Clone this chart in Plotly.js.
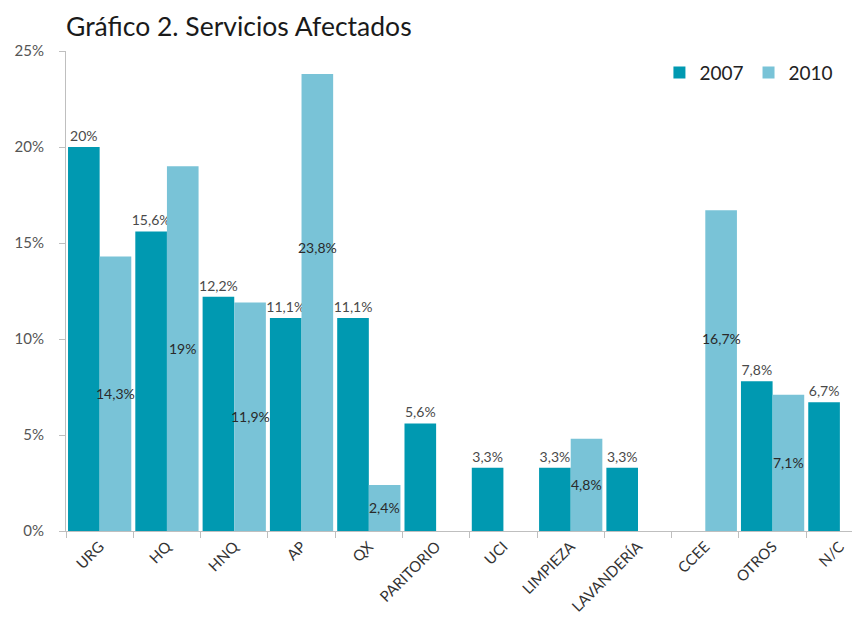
<!DOCTYPE html>
<html><head><meta charset="utf-8">
<script src="https://cdn.plot.ly/plotly-3.0.1.min.js"></script>
<style>html,body{margin:0;padding:0;background:#fff}#chart{width:852px;height:633px}</style>
</head><body><div id="chart"></div>
<script>
const categories = ["URG","HQ","HNQ","AP","QX","PARITORIO","UCI","LIMPIEZA","LAVANDERÍA","CCEE","OTROS","N/C"];
const values2007 = [20, 15.6, 12.2, 11.1, 11.1, 5.6, 3.3, 3.3, 3.3, null, 7.8, 6.7];
const values2010 = [14.3, 19, 11.9, 23.8, 2.4, null, null, 4.8, null, 16.7, 7.1, null];
const yTicks = [0, 5, 10, 15, 20, 25];
// where each 2010 label sits, as a fraction of its bar's height (Excel placement)
const labelFrac2010 = [0.5, 0.5, 0.5, 0.62, 0.5, 0.5, 0.5, 0.5, 0.5, 0.6, 0.5, 0.5];

const fmt = v => v == null ? "" : String(v).replace(".", ",") + "%";
const FONT = "Lato, 'Open Sans', sans-serif";
const BARGAP = 0.06;
const offset2010 = (1 - BARGAP) / 4;

const t2007 = {
  type: "bar", name: "2007", x: categories, y: values2007,
  text: values2007.map(fmt), textposition: "outside", constraintext: "none",
  textangle: 0, cliponaxis: false,
  textfont: {family: FONT, size: 14, color: "#4a4a4a"},
  marker: {color: "#0099B1"}, hoverinfo: "x+y"
};
const t2010 = {
  type: "bar", name: "2010", x: categories, y: values2010,
  marker: {color: "#79C3D7"}, hoverinfo: "x+y"
};

const annotations = values2010.map((v, i) => v == null ? null : ({
  x: i + offset2010, y: v * labelFrac2010[i], xref: "x", yref: "y",
  text: fmt(v), showarrow: false, xanchor: "center", yanchor: "middle",
  font: {family: FONT, size: 14, color: "#2a2a2a"}
})).filter(a => a);

const layout = {
  width: 852, height: 633,
  margin: {l: 66, r: 0, t: 51, b: 102},
  paper_bgcolor: "#fff", plot_bgcolor: "#fff",
  barmode: "group", bargap: BARGAP, bargroupgap: 0,
  showlegend: true,
  legend: {orientation: "h", x: 0.755, y: 0.955, xanchor: "left", yanchor: "middle",
           font: {family: FONT, size: 19, color: "#222"}, itemwidth: 30, traceorder: "normal"},
  title: {text: "Gráfico 2. Servicios Afectados", x: 66/852, xanchor: "left",
          xref: "container", y: 0.958, yanchor: "middle",
          font: {family: FONT, size: 26.5, color: "#1a1a1a"}},
  xaxis: {type: "category", range: [-0.5, 11.18], tickangle: -45,
          ticks: "outside", tickson: "boundaries", ticklen: 6, tickcolor: "#BFBFBF",
          showline: true, linecolor: "#BFBFBF", linewidth: 1, showgrid: false,
          tickfont: {family: FONT, size: 15, color: "#333"}},
  yaxis: {range: [0, 25], tickvals: yTicks, ticktext: yTicks.map(v => v + "%"),
          ticks: "outside", ticklen: 6, tickcolor: "#BFBFBF",
          showline: true, linecolor: "#BFBFBF", linewidth: 1, showgrid: false, zeroline: false,
          ticklabelstandoff: 12,
          tickfont: {family: FONT, size: 15, color: "#555"}},
  annotations: annotations
};
Plotly.newPlot("chart", [t2007, t2010], layout, {displayModeBar: false});
</script></body></html>
